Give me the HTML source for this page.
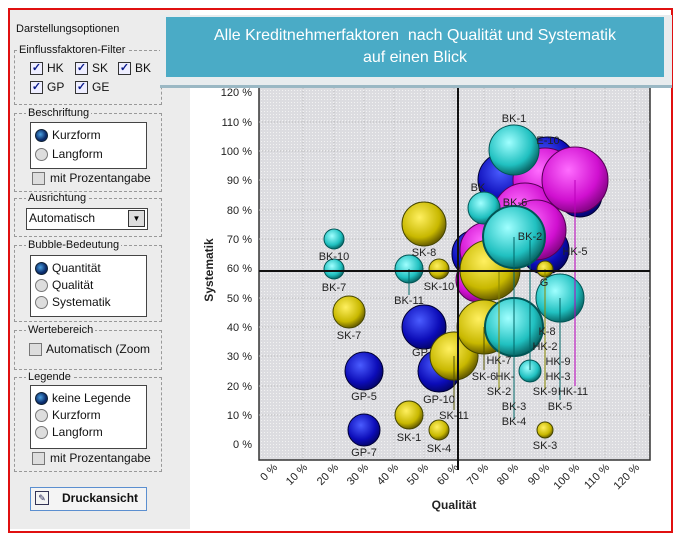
<!DOCTYPE html>
<html><head><meta charset="utf-8"><style>
body{margin:0;width:682px;height:538px;background:#fff;position:relative;overflow:hidden;font-family:"Liberation Sans",sans-serif;}
.a{position:absolute}
.frame{left:8px;top:8px;width:661px;height:521px;border:2px solid #e01010;}
.panel{left:10px;top:10px;width:180px;height:519px;background:#ececec;}
.grp{position:absolute;border:1px dashed #999;}
.lg{position:absolute;background:#ececec;font-size:11px;padding:0 2px;color:#111;line-height:12px;}
.wb{position:absolute;background:#fff;border:1px solid #444;}
.t{position:absolute;font-size:12px;color:#111;line-height:14px;white-space:nowrap}
.cb{position:absolute;width:11px;height:11px;border:1px solid #333;background:#eef;font-size:11px;line-height:11px;text-align:center;color:#0a1a8a;font-weight:bold}
.cb0{position:absolute;width:11px;height:11px;border:1px solid #777;background:#ddd}
.rd{position:absolute;width:11px;height:11px;border-radius:50%;border:1px solid #777;background:#ddd}
.rd.on{background:radial-gradient(circle at 40% 40%,#4aa0e0,#0a2a6a 60%);border-color:#123}
</style></head><body>
<div class="a panel"></div>
<div class="a frame"></div>
<div class="t" style="left:16px;top:22px;font-size:11px">Darstellungsoptionen</div>

<div class="grp" style="left:14px;top:50px;width:146px;height:53px"></div>
<div class="lg" style="left:17px;top:44px">Einflussfaktoren-Filter</div>
<div class="cb" style="left:30px;top:62px">✓</div><div class="t" style="left:47px;top:61px">HK</div>
<div class="cb" style="left:75px;top:62px">✓</div><div class="t" style="left:92px;top:61px">SK</div>
<div class="cb" style="left:118px;top:62px">✓</div><div class="t" style="left:135px;top:61px">BK</div>
<div class="cb" style="left:30px;top:81px">✓</div><div class="t" style="left:47px;top:80px">GP</div>
<div class="cb" style="left:75px;top:81px">✓</div><div class="t" style="left:92px;top:80px">GE</div>

<div class="grp" style="left:14px;top:113px;width:146px;height:77px"></div>
<div class="lg" style="left:26px;top:107px">Beschriftung</div>
<div class="wb" style="left:30px;top:122px;width:115px;height:45px"></div>
<div class="rd on" style="left:35px;top:129px"></div><div class="t" style="left:52px;top:128px">Kurzform</div>
<div class="rd" style="left:35px;top:148px"></div><div class="t" style="left:52px;top:147px">Langform</div>
<div class="cb0" style="left:32px;top:172px"></div><div class="t" style="left:50px;top:171px">mit Prozentangabe</div>

<div class="grp" style="left:14px;top:198px;width:146px;height:37px"></div>
<div class="lg" style="left:26px;top:192px">Ausrichtung</div>
<div class="wb" style="left:26px;top:208px;width:120px;height:20px"></div>
<div class="t" style="left:29px;top:211px">Automatisch</div>
<div class="a" style="left:128px;top:210px;width:15px;height:15px;background:#ddd;border:1px solid #333;font-size:8px;text-align:center;line-height:15px">▼</div>

<div class="grp" style="left:14px;top:245px;width:146px;height:75px"></div>
<div class="lg" style="left:26px;top:239px">Bubble-Bedeutung</div>
<div class="wb" style="left:30px;top:255px;width:115px;height:60px"></div>
<div class="rd on" style="left:35px;top:262px"></div><div class="t" style="left:52px;top:261px">Quantität</div>
<div class="rd" style="left:35px;top:279px"></div><div class="t" style="left:52px;top:278px">Qualität</div>
<div class="rd" style="left:35px;top:296px"></div><div class="t" style="left:52px;top:295px">Systematik</div>

<div class="grp" style="left:14px;top:330px;width:146px;height:38px"></div>
<div class="lg" style="left:26px;top:324px">Wertebereich</div>
<div class="cb0" style="left:29px;top:343px"></div><div class="t" style="left:46px;top:342px;width:104px;overflow:hidden">Automatisch (Zoom</div>

<div class="grp" style="left:14px;top:377px;width:146px;height:93px"></div>
<div class="lg" style="left:26px;top:371px">Legende</div>
<div class="wb" style="left:30px;top:385px;width:115px;height:62px"></div>
<div class="rd on" style="left:35px;top:392px"></div><div class="t" style="left:52px;top:391px">keine Legende</div>
<div class="rd" style="left:35px;top:409px"></div><div class="t" style="left:52px;top:408px">Kurzform</div>
<div class="rd" style="left:35px;top:426px"></div><div class="t" style="left:52px;top:425px">Langform</div>
<div class="cb0" style="left:32px;top:452px"></div><div class="t" style="left:50px;top:451px">mit Prozentangabe</div>

<div class="a" style="left:30px;top:487px;width:115px;height:22px;border:1px solid #5b8fd0;background:#f4f4f4"></div>
<div class="a" style="left:35px;top:491px;width:12px;height:12px;border:1px solid #335;font-size:9px;line-height:12px;text-align:center;color:#225">✎</div>
<div class="t" style="left:62px;top:491px;font-weight:bold">Druckansicht</div>

<svg class="a" style="left:0;top:0" width="682" height="538">
<defs>
<pattern id="dots" width="3" height="3" patternUnits="userSpaceOnUse"><rect width="3" height="3" fill="#dcdce0"/><rect width="1" height="1" fill="#f2f2f2"/></pattern>
<radialGradient id="gB" cx="40%" cy="35%" r="65%"><stop offset="0" stop-color="#4a5cff"/><stop offset="0.7" stop-color="#0c0cb8"/><stop offset="1" stop-color="#050570"/></radialGradient>
<radialGradient id="gM" cx="40%" cy="35%" r="65%"><stop offset="0" stop-color="#ff6cff"/><stop offset="0.7" stop-color="#d010d0"/><stop offset="1" stop-color="#8a058a"/></radialGradient>
<radialGradient id="gY" cx="40%" cy="35%" r="65%"><stop offset="0" stop-color="#fff060"/><stop offset="0.7" stop-color="#c8b800"/><stop offset="1" stop-color="#6a6000"/></radialGradient>
<radialGradient id="gC" cx="40%" cy="35%" r="65%"><stop offset="0" stop-color="#a0ffff"/><stop offset="0.7" stop-color="#20c0c0"/><stop offset="1" stop-color="#0a6a6a"/></radialGradient>
</defs>
<rect x="259" y="85" width="391" height="375" fill="url(#dots)" stroke="#333" stroke-width="1.5"/>
<g stroke="#bbb" stroke-dasharray="1 2" stroke-width="1">
<line x1="303" y1="85" x2="303" y2="460"/><line x1="334" y1="85" x2="334" y2="460"/><line x1="364" y1="85" x2="364" y2="460"/><line x1="394" y1="85" x2="394" y2="460"/><line x1="424" y1="85" x2="424" y2="460"/><line x1="454" y1="85" x2="454" y2="460"/><line x1="484" y1="85" x2="484" y2="460"/><line x1="514" y1="85" x2="514" y2="460"/><line x1="545" y1="85" x2="545" y2="460"/><line x1="575" y1="85" x2="575" y2="460"/><line x1="605" y1="85" x2="605" y2="460"/><line x1="635" y1="85" x2="635" y2="460"/>
<line x1="259" y1="415" x2="650" y2="415"/><line x1="259" y1="386" x2="650" y2="386"/><line x1="259" y1="356" x2="650" y2="356"/><line x1="259" y1="327" x2="650" y2="327"/><line x1="259" y1="298" x2="650" y2="298"/><line x1="259" y1="239" x2="650" y2="239"/><line x1="259" y1="210" x2="650" y2="210"/><line x1="259" y1="180" x2="650" y2="180"/><line x1="259" y1="151" x2="650" y2="151"/><line x1="259" y1="122" x2="650" y2="122"/>
</g>
<g font-size="11" fill="#222" text-anchor="end" font-family="Liberation Sans">
<text x="252" y="448">0 %</text><text x="252" y="419">10 %</text><text x="252" y="390">20 %</text><text x="252" y="360">30 %</text><text x="252" y="331">40 %</text><text x="252" y="302">50 %</text><text x="252" y="272">60 %</text><text x="252" y="243">70 %</text><text x="252" y="214">80 %</text><text x="252" y="184">90 %</text><text x="252" y="155">100 %</text><text x="252" y="126">110 %</text><text x="252" y="96">120 %</text>
</g>
<g font-size="11" fill="#222" text-anchor="end" font-family="Liberation Sans">
<text transform="translate(278,468) rotate(-45)">0 %</text><text transform="translate(308,468) rotate(-45)">10 %</text><text transform="translate(339,468) rotate(-45)">20 %</text><text transform="translate(369,468) rotate(-45)">30 %</text><text transform="translate(399,468) rotate(-45)">40 %</text><text transform="translate(429,468) rotate(-45)">50 %</text><text transform="translate(459,468) rotate(-45)">60 %</text><text transform="translate(489,468) rotate(-45)">70 %</text><text transform="translate(519,468) rotate(-45)">80 %</text><text transform="translate(550,468) rotate(-45)">90 %</text><text transform="translate(580,468) rotate(-45)">100 %</text><text transform="translate(610,468) rotate(-45)">110 %</text><text transform="translate(640,468) rotate(-45)">120 %</text>
</g>
<text x="454" y="509" font-size="12" font-weight="bold" text-anchor="middle" fill="#222">Qualität</text>
<text transform="translate(213,270) rotate(-90)" font-size="12" font-weight="bold" text-anchor="middle" fill="#222">Systematik</text>

<g stroke-width="1">
<!-- blue back -->
<circle cx="506" cy="180" r="28" fill="url(#gB)" stroke="#003"/>
<circle cx="548" cy="165" r="28" fill="url(#gB)" stroke="#003"/>
<circle cx="580" cy="195" r="22" fill="url(#gB)" stroke="#003"/>
<circle cx="476" cy="254" r="24" fill="url(#gB)" stroke="#003"/>
<circle cx="545" cy="250" r="24" fill="url(#gB)" stroke="#003"/>
<!-- magenta -->
<circle cx="545" cy="180" r="32" fill="url(#gM)" stroke="#505"/>
<circle cx="525" cy="215" r="32" fill="url(#gM)" stroke="#505"/>
<circle cx="536" cy="230" r="30" fill="url(#gM)" stroke="#505"/>
<circle cx="488" cy="250" r="28" fill="url(#gM)" stroke="#505"/>
<circle cx="478" cy="280" r="22" fill="url(#gM)" stroke="#505"/>
<circle cx="575" cy="180" r="33" fill="url(#gM)" stroke="#505"/>
<!-- cyan back -->
<circle cx="484" cy="208" r="16" fill="url(#gC)" stroke="#055"/>
<circle cx="514" cy="150" r="25" fill="url(#gC)" stroke="#055"/>
<!-- yellow -->
<circle cx="490" cy="270" r="30" fill="url(#gY)" stroke="#440"/>
<circle cx="545" cy="269" r="8" fill="url(#gY)" stroke="#440"/>
<circle cx="514" cy="237" r="31" fill="url(#gC)" stroke="#055" stroke-width="2"/>
<circle cx="424" cy="224" r="22" fill="url(#gY)" stroke="#440"/>
<circle cx="439" cy="269" r="10" fill="url(#gY)" stroke="#440"/>
<circle cx="349" cy="312" r="16" fill="url(#gY)" stroke="#440"/>
<circle cx="409" cy="415" r="14" fill="url(#gY)" stroke="#440"/>
<circle cx="439" cy="430" r="10" fill="url(#gY)" stroke="#440"/>
<circle cx="545" cy="430" r="8" fill="url(#gY)" stroke="#440"/>
<!-- blue front -->
<circle cx="364" cy="430" r="16" fill="url(#gB)" stroke="#003"/>
<circle cx="364" cy="371" r="19" fill="url(#gB)" stroke="#003"/>
<circle cx="424" cy="327" r="22" fill="url(#gB)" stroke="#003"/>
<circle cx="439" cy="371" r="21" fill="url(#gB)" stroke="#003"/>
<circle cx="454" cy="356" r="24" fill="url(#gY)" stroke="#440"/>
<circle cx="484" cy="327" r="27" fill="url(#gY)" stroke="#440"/>
<!-- cyan front -->
<circle cx="334" cy="239" r="10" fill="url(#gC)" stroke="#055"/>
<circle cx="334" cy="269" r="10" fill="url(#gC)" stroke="#055"/>
<circle cx="409" cy="269" r="14" fill="url(#gC)" stroke="#055"/>
<circle cx="560" cy="298" r="24" fill="url(#gC)" stroke="#055"/>
<circle cx="514" cy="327" r="29" fill="url(#gC)" stroke="#055" stroke-width="2"/>
<circle cx="530" cy="371" r="11" fill="url(#gC)" stroke="#055"/>
</g>
<g stroke-width="1">
<line x1="575" y1="180" x2="575" y2="386" stroke="#b0b"/>
<line x1="560" y1="298" x2="560" y2="400" stroke="#066"/>
<line x1="545" y1="269" x2="545" y2="390" stroke="#880"/>
<line x1="514" y1="237" x2="514" y2="420" stroke="#066"/>
<line x1="530" y1="240" x2="530" y2="370" stroke="#066"/>
<line x1="484" y1="327" x2="484" y2="370" stroke="#550"/>
<line x1="499" y1="270" x2="499" y2="390" stroke="#880"/>
<line x1="409" y1="269" x2="409" y2="295" stroke="#066"/>
<line x1="454" y1="356" x2="454" y2="410" stroke="#550"/>
</g>
<line x1="458" y1="80" x2="458" y2="470" stroke="#111" stroke-width="2"/>
<line x1="259" y1="271" x2="650" y2="271" stroke="#111" stroke-width="2"/>
<g font-size="11" fill="#222" text-anchor="middle" font-family="Liberation Sans">
<text x="514" y="122">BK-1</text><text x="548" y="144">E-10</text><text x="478" y="191">BK</text><text x="515" y="206">BK-6</text>
<text x="530" y="240">BK-2</text><text x="575" y="255">HK-5</text>
<text x="334" y="260">BK-10</text><text x="334" y="291">BK-7</text><text x="424" y="256">SK-8</text><text x="439" y="290">SK-10</text><text x="409" y="304">BK-11</text>
<text x="349" y="339">SK-7</text><text x="420" y="356">GP</text><text x="364" y="400">GP-5</text><text x="439" y="403">GP-10</text><text x="454" y="419">SK-11</text>
<text x="409" y="441">SK-1</text><text x="439" y="452">SK-4</text><text x="364" y="456">GP-7</text><text x="545" y="449">SK-3</text>
<text x="499" y="364">HK-7</text><text x="484" y="380">SK-6</text><text x="505" y="380">HK-</text><text x="499" y="395">SK-2</text>
<text x="514" y="410">BK-3</text><text x="514" y="425">BK-4</text><text x="547" y="335">K-8</text><text x="545" y="350">HK-2</text>
<text x="558" y="365">HK-9</text><text x="558" y="380">HK-3</text><text x="545" y="395">SK-9</text><text x="573" y="395">HK-11</text><text x="560" y="410">BK-5</text>
<text x="544" y="286">G</text>
</g>
</svg>

<div class="a" style="left:160px;top:15px;width:512px;height:70px;background:#e8ecee;border-bottom:3px solid #9ab8c4"></div>
<div class="a" style="left:166px;top:17px;width:498px;height:60px;background:#4aabc6;color:#fff;font-size:16px;line-height:22px;text-align:center;padding-top:8px;box-sizing:border-box">Alle Kreditnehmerfaktoren&nbsp; nach Qualität und Systematik<br>auf einen Blick</div>
</body></html>
